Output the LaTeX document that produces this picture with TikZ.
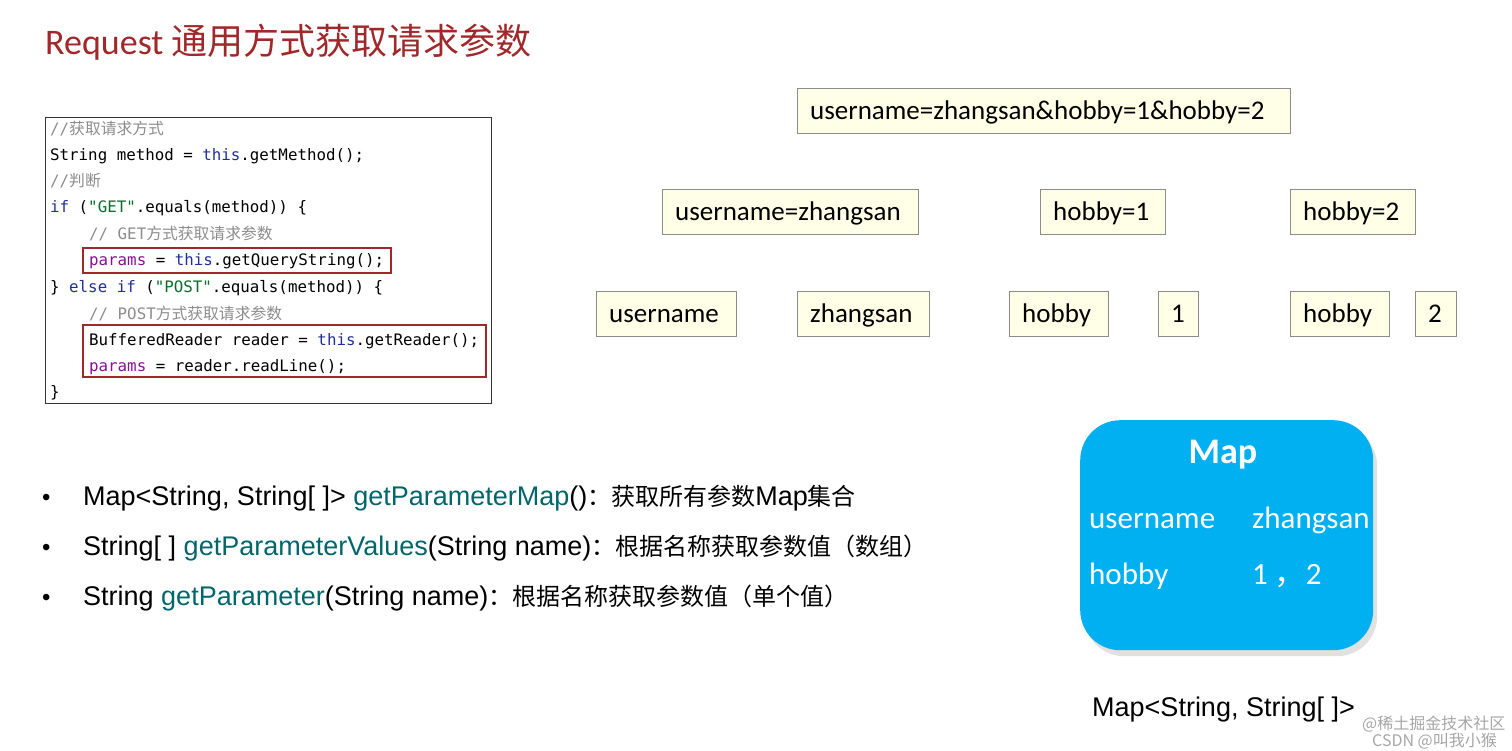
\documentclass[tikz,border=0pt]{standalone}
\usepackage{fontspec}
\setmainfont{Carlito}
\newfontfamily\arialf{Liberation Sans}
\newfontfamily\cjk{Noto Sans CJK SC}
\newfontfamily\codef{DejaVu Sans Mono}
\usetikzlibrary{shadows}
\definecolor{titlered}{HTML}{A0282A}
\definecolor{boxfill}{HTML}{FFFFE8}
\definecolor{boxline}{HTML}{8C8C8C}
\definecolor{kw}{HTML}{1F2F9A}
\definecolor{strg}{HTML}{0A6B2A}
\definecolor{var}{HTML}{871094}
\definecolor{cmt}{HTML}{8C8C8C}
\definecolor{meth}{HTML}{00666B}
\definecolor{mapblue}{HTML}{00B0F0}
\newcommand{\kvstrut}{\rule[-14pt]{0pt}{45pt}}
\begin{document}
\begin{tikzpicture}[x=1pt,y=-1pt,
  kv/.style={draw=boxline,fill=boxfill,inner xsep=13pt,inner ysep=0pt,align=left,font=\fontsize{27}{30}\selectfont},
  code/.style={anchor=base west,inner sep=0pt,font=\codef\fontsize{15.8}{18}\selectfont},
  redbox/.style={draw=titlered,line width=1.5pt},
  bul/.style={anchor=base west,inner sep=0pt,font=\arialf\fontsize{27}{30}\selectfont},
  dot/.style={anchor=base west,inner sep=0pt,font=\arialf\fontsize{24}{26}\selectfont},
  maptxt/.style={anchor=base west,inner sep=0pt,text=white,font=\fontsize{31}{34}\selectfont}]
\useasboundingbox (0,0) rectangle (1512,751);
\node[anchor=base west,inner sep=0pt,text=titlered,font=\fontsize{36}{40}\selectfont] (title) at (45,55) {Request {\cjk 通用方式获取请求参数}};
% code
\node[draw=black!80,line width=0.8pt,minimum width=446pt,minimum height=286pt,anchor=north west] (codebox) at (45,117) {};
\node[code,text=cmt] (c1) at (50,135) {//{\cjk 获取请求方式}};
\node[code] (c2) at (50,161) {String method = \textcolor{kw}{this}.getMethod();};
\node[code,text=cmt] (c3) at (50,187) {//{\cjk 判断}};
\node[code] (c4) at (50,213) {\textcolor{kw}{if} (\textcolor{strg}{"GET"}.equals(method)) \{};
\node[code,text=cmt] (c5) at (89,240) {// GET{\cjk 方式获取请求参数}};
\node[code] (c6) at (89,266) {\textcolor{var}{params} = \textcolor{kw}{this}.getQueryString();};
\node[code] (c7) at (50,292) {\} \textcolor{kw}{else if} (\textcolor{strg}{"POST"}.equals(method)) \{};
\node[code,text=cmt] (c8) at (89,319) {// POST{\cjk 方式获取请求参数}};
\node[code] (c9) at (89,345) {BufferedReader reader = \textcolor{kw}{this}.getReader();};
\node[code] (c10) at (89,371) {\textcolor{var}{params} = reader.readLine();};
\node[code] (c11) at (50,397) {\}};
\draw[redbox] (83,248) rectangle (391,273);
\draw[redbox] (83,325) rectangle (486,377);
% kv boxes
\node[kv,text width=467pt,anchor=north west] (all) at (797,88) {\kvstrut username=zhangsan\&hobby=1\&hobby=2};
\node[kv,text width=230pt,anchor=north west] (p1) at (662,189) {\kvstrut username=zhangsan};
\node[kv,text width=99pt,anchor=north west] (p2) at (1040,189) {\kvstrut hobby=1};
\node[kv,text width=99pt,anchor=north west] (p3) at (1290,189) {\kvstrut hobby=2};
\node[kv,text width=114pt,anchor=north west] (k1) at (596,291) {\kvstrut username};
\node[kv,text width=106pt,anchor=north west] (v1) at (797,291) {\kvstrut zhangsan};
\node[kv,text width=73pt,anchor=north west] (k2) at (1009,291) {\kvstrut hobby};
\node[kv,text width=14pt,anchor=north west] (v2) at (1158,291) {\kvstrut 1};
\node[kv,text width=73pt,anchor=north west] (k3) at (1290,291) {\kvstrut hobby};
\node[kv,text width=15pt,anchor=north west] (v3) at (1415,291) {\kvstrut 2};
% bullets
\node[dot] (b1) at (42,505) {•};
\node[bul] (t1) at (83,505) {Map<String, String[ ]> \textcolor{meth}{getParameterMap}(){\cjk\fontsize{24}{26}\selectfont ：获取所有参数}Map{\cjk\fontsize{24}{26}\selectfont 集合}};
\node[dot] (b2) at (42,555) {•};
\node[bul] (t2) at (83,555) {String[ ] \textcolor{meth}{getParameterValues}(String name){\cjk\fontsize{24}{26}\selectfont ：根据名称获取参数值（数组）}};
\node[dot] (b3) at (42,605) {•};
\node[bul] (t3) at (83,605) {String \textcolor{meth}{getParameter}(String name){\cjk\fontsize{24}{26}\selectfont ：根据名称获取参数值（单个值）}};
% map
\node[fill=mapblue,rounded corners=40pt,minimum width=293pt,minimum height=230pt,anchor=north west,
  drop shadow={shadow xshift=4pt,shadow yshift=-6pt,fill=black!15,opacity=0.8}] (map) at (1080,420) {};
\node[anchor=base,inner sep=0pt,text=white,font=\bfseries\fontsize{36}{40}\selectfont] (maptitle) at (1223,463) {Map};
\node[maptxt] (mk1) at (1089,528) {username};
\node[maptxt] (mv1) at (1252,528) {zhangsan};
\node[maptxt] (mk2) at (1089,584) {hobby};
\node[maptxt] (mv2) at (1252,584) {1 {\cjk ，}2};
\node[anchor=base west,inner sep=0pt,font=\arialf\fontsize{27}{30}\selectfont] (maptype) at (1092,716) {Map<String, String[ ]>};
\node[anchor=base west,inner sep=0pt,text=black!35,font=\cjk\fontsize{16}{18}\selectfont] (wm1) at (1362,729) {@稀土掘金技术社区};
\node[anchor=base west,inner sep=0pt,text=black!35,font=\cjk\fontsize{16}{18}\selectfont] (wm2) at (1372,746) {CSDN @叫我小猴};
\end{tikzpicture}
\end{document}
